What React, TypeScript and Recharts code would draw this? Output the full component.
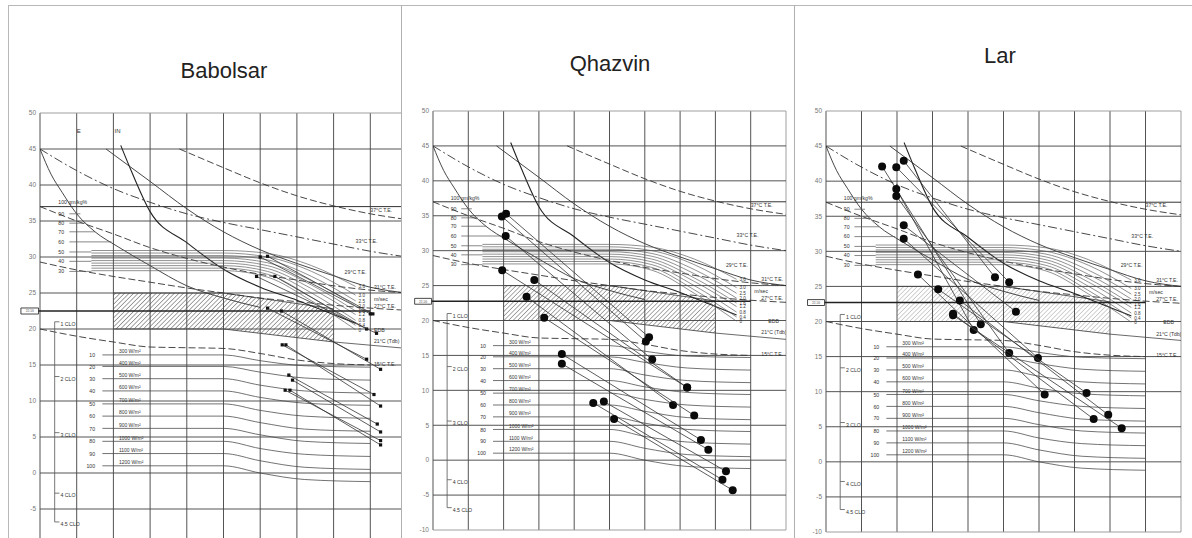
import React from 'react';
import { ComposedChart, XAxis, YAxis, Line, Area, Scatter, ReferenceLine, ReferenceArea } from 'recharts';

type Lbl = { x: number; y: number; t: string; s?: number; a?: 'start' | 'middle' | 'end' };

const FONT = '"Liberation Sans", Arial, sans-serif';

// axes
const RH_TICKS = [0, 10, 20, 30, 40, 50, 60, 70, 80, 90, 100];
const T_TICKS = [-10, -5, 0, 5, 10, 15, 20, 25, 30, 35, 40, 45, 50];
const TITLES = ['Babolsar', 'Qhazvin', 'Lar'];

// effective temperature (dashed) curves  [RH, T]
const TE_37 = [[38, 45], [50, 42.4], [60, 40.3], [70, 38.5], [80, 37.1], [90, 36], [100, 35.2]];
const TE_33 = [[0, 45], [10, 42], [20, 39.5], [30, 37.6], [40, 36], [50, 34.8], [60, 33.8], [70, 32.8], [80, 31.8], [90, 30.8], [100, 30]];
const TE_29 = [[0, 37], [10, 35], [20, 33.2], [30, 31.3], [40, 29.8], [50, 28.6], [60, 27.6], [70, 26.8], [80, 26], [90, 25.4], [100, 25]];
const TE_27 = [[0, 29.3], [10, 28.2], [20, 27.3], [30, 26.5], [40, 25.7], [50, 25], [60, 24.3], [70, 23.8], [80, 23.3], [90, 22.9], [100, 22.6]];
const TE_15 = [[0, 20], [10, 19], [20, 18.2], [30, 17.5], [40, 17.4], [50, 17.3], [60, 16.6], [70, 15.7], [80, 15.2], [90, 15]];

// solid curves
const CURVE_A = [[0, 45], [3, 41.5], [6, 39], [10, 36], [15, 33.5], [21, 31.5], [30, 28.8], [40, 26], [50, 24.3], [60, 23]];
const CURVE_B = [[18, 45], [30, 40.5], [40, 36.7], [50, 33.5], [60, 31], [70, 29.1], [80, 27.4], [90, 25.8], [100, 25]];
const CURVE_C = [[22, 45.5], [25, 41.8], [30, 36.3], [40, 32], [50, 28.3], [60, 25.8], [70, 24], [80, 22], [86, 20.8]];

// wind (fan) lines, x = 14, 50, 62, 74, 86
const FAN_X = [14, 50, 62, 74, 86];
const FAN_LINES = [
  [30.9, 30.9, 30.5, 28.8, 25.9],
  [30.55, 30.55, 30.0, 28.0, 24.7],
  [30.2, 30.2, 29.6, 27.3, 23.9],
  [29.85, 29.85, 29.2, 26.7, 23.2],
  [29.5, 29.5, 28.8, 26.1, 22.5],
  [29.15, 29.15, 28.4, 25.6, 22.0],
  [28.8, 28.8, 28.0, 25.0, 21.2],
  [28.45, 28.45, 27.6, 24.4, 20.5],
  [28.1, 28.1, 27.2, 23.9, 19.9],
];
const FAN_LABELS = ['3.6', '3.0', '2.5', '2.0', '1.6', '1.2', '0.8', '0.4', '0'];

// radiation lines, x = 17, 50, 60, 72, 90
const RAD_X = [17, 50, 60, 72, 90];
const RAD_LINES = [
  [16.4, 16.4, 15.6, 14.9, 14.7],
  [14.8, 14.8, 14.0, 13.2, 12.9],
  [13.1, 13.1, 12.2, 11.4, 11.1],
  [11.4, 11.4, 10.5, 9.7, 9.4],
  [9.6, 9.6, 8.7, 7.9, 7.6],
  [7.9, 7.9, 7.0, 6.1, 5.8],
  [6.2, 6.2, 5.3, 4.4, 4.1],
  [4.4, 4.4, 3.4, 2.6, 2.3],
  [2.7, 2.7, 1.7, 0.8, 0.5],
  [1.0, 1.0, 0.0, -0.9, -1.2],
];
const RAD_NUMS = ['10', '20', '30', '40', '50', '60', '70', '80', '90', '100'];
const RAD_WATTS = ['300 W/m²', '400 W/m²', '500 W/m²', '600 W/m²', '700 W/m²', '800 W/m²', '900 W/m²', '1000 W/m²', '1100 W/m²', '1200 W/m²'];

// humidity scale
const HUM_LINES = [[8, 11, 36.0], [8, 12.6, 34.7], [8, 15, 33.5], [8, 19.5, 32.1], [8, 14, 30.7], [8, 14, 29.4], [8, 14, 28.0]];
const HUM_LABELS: Lbl[] = [
  { x: 5, y: 37.3, t: '100 gm/kg%' }, { x: 5, y: 35.75, t: '90' }, { x: 5, y: 34.45, t: '80' }, { x: 5, y: 33.25, t: '70' },
  { x: 5, y: 31.85, t: '60' }, { x: 5, y: 30.45, t: '50' }, { x: 5, y: 29.15, t: '40' }, { x: 5, y: 27.75, t: '30' },
];

// comfort (hatched) zone  [RH, low, high]
const HATCH_ZONE = [[20, 20, 25], [50, 20, 25], [80, 18.2, 22.8]];

// clothing scale
const CLO_LEVELS = [21.0, 13.4, 5.6, -2.8, -6.8];
const CLO_LABELS: Lbl[] = [
  { x: 5.6, y: 20.4, t: '1 CLO' }, { x: 5.6, y: 12.8, t: '2 CLO' }, { x: 5.6, y: 5.0, t: '3 CLO' },
  { x: 5.6, y: -3.4, t: '4 CLO' }, { x: 5.6, y: -7.4, t: '4.5 CLO' },
];

const RIGHT_LABELS: Lbl[] = [
  { x: 90, y: 36.3, t: '37°C T.E.' }, { x: 86, y: 31.9, t: '33°C T.E.' }, { x: 83, y: 27.7, t: '29°C T.E.' },
  { x: 93, y: 25.6, t: '31°C T.E.' }, { x: 93, y: 22.9, t: '27°C T.E.' }, { x: 95, y: 19.6, t: 'EDB' },
  { x: 93, y: 18.0, t: '21°C (Tdb)' }, { x: 93, y: 14.9, t: '15°C T.E.' }, { x: 91, y: 23.9, t: 'm/sec' },
];

// monthly climate data: [RH at Tmax, Tmax] and [RH at Tmin, Tmin]
const BAB_HIGH = [[62, 30.1], [60, 30.0], [64, 27.3], [59, 27.3], [62, 22.9], [65.8, 22.5], [66, 17.8], [67, 17.8], [67.8, 13.6], [68.8, 12.9], [66.8, 11.5], [68.1, 11.5]];
const BAB_LOW = [[90.7, 22.1], [90, 22.1], [89, 20.0], [91.7, 19.4], [89, 15.8], [92.8, 14.4], [91, 10.9], [92.8, 9.3], [91.9, 6.8], [92.8, 5.7], [92.8, 4.5], [92.8, 3.9]];
const QAZ_HIGH = [[20.7, 35.3], [19.5, 34.9], [20.6, 32.1], [19.6, 27.2], [28.7, 25.8], [26.5, 23.4], [31.5, 20.4], [36.5, 15.2], [36.5, 13.8], [48.4, 8.4], [45.4, 8.2], [51.3, 5.9]];
const QAZ_LOW = [[61.2, 17.6], [60.3, 17.0], [62.1, 14.4], [72, 10.4], [72, 10.4], [68, 7.9], [74, 6.4], [75.9, 2.9], [78, 1.5], [83, -1.6], [82, -2.8], [84.9, -4.3]];
const LAR_HIGH = [[21.9, 42.9], [19.8, 42.0], [15.8, 42.1], [19.8, 38.9], [19.8, 37.9], [21.9, 33.7], [21.9, 31.8], [25.9, 26.7], [31.6, 24.6], [37.7, 23.0], [35.8, 21.1], [35.8, 20.9]];
const LAR_LOW = [[47.6, 26.3], [51.6, 25.6], [43.6, 19.6], [41.6, 18.8], [51.6, 15.5], [53.5, 21.4], [59.7, 14.8], [61.6, 9.6], [73.4, 9.8], [79.5, 6.7], [75.4, 6.1], [83.3, 4.8]];

const toPts = (a: number[][]) => a.map(([x, y]) => ({ x, y }));

const TextShape = (props: any) => {
  const { cx, cy, payload } = props;
  if (cx == null || cy == null || !payload) return null;
  return (
    <text x={cx} y={cy} fontSize={payload.s ?? 5.2} fill="#333" textAnchor={payload.a ?? 'start'} fontFamily={FONT}>
      {payload.t}
    </text>
  );
};

type Cfg = {
  id: string;
  left: number;
  width: number;
  height: number;
  clipW: number;
  mTop: number;
  mBottom: number;
  mRight: number;
  comfort: number;
  high: number[][];
  low: number[][];
  small: boolean;
  hatch: string;
  topLetters: boolean;
  maxLabelX: number;
  yTicks: number[];
};

function Panel({ c }: { c: Cfg }) {
  const els: React.ReactNode[] = [];
  const line = (key: string, data: number[][], stroke: string, w: number, dash?: string) => (
    <Line
      key={key}
      data={toPts(data)}
      dataKey="y"
      type="monotone"
      dot={false}
      activeDot={false}
      stroke={stroke}
      strokeWidth={w}
      strokeDasharray={dash}
      isAnimationActive={false}
      legendType="none"
    />
  );
  const seg = (key: string, x1: number, y1: number, x2: number, y2: number, stroke: string, w: number) => (
    <ReferenceLine key={key} segment={[{ x: x1, y: y1 }, { x: x2, y: y2 }]} stroke={stroke} strokeWidth={w} ifOverflow="visible" />
  );

  // hatched comfort zone
  els.push(
    <Area
      key="hatch"
      data={HATCH_ZONE.map(([x, lo, hi]) => ({ x, range: [lo, hi] }))}
      dataKey="range"
      type="linear"
      stroke="#333"
      strokeWidth={0.8}
      fill={`url(#${c.id}-hatch)`}
      fillOpacity={1}
      dot={false}
      activeDot={false}
      isAnimationActive={false}
      legendType="none"
    />
  );

  // grid
  RH_TICKS.forEach((v) =>
    els.push(<ReferenceLine key={'gx' + v} x={v} stroke={v === 100 ? '#9a9a9a' : '#4a4a4a'} strokeWidth={0.95} ifOverflow="visible" />)
  );
  T_TICKS.forEach((v) =>
    els.push(<ReferenceLine key={'gy' + v} y={v} stroke={v === 50 || v === -10 ? '#9a9a9a' : '#4a4a4a'} strokeWidth={0.95} ifOverflow="visible" />)
  );
  els.push(<ReferenceLine key="h37" y={37} stroke="#333" strokeWidth={1} ifOverflow="visible" />);

  // dashed effective-temperature curves
  els.push(line('te37', TE_37, '#333', 0.9, '7 3'));
  els.push(line('te33', TE_33, '#333', 0.9, '9 3 2 3'));
  els.push(line('te29', TE_29, '#333', 0.9, '7 3'));
  els.push(line('te27', TE_27, '#333', 0.9, '7 3'));
  els.push(line('te15', TE_15, '#333', 0.9, '7 3'));

  // solid curves
  els.push(line('ca', CURVE_A, '#333', 0.9));
  els.push(line('cb', CURVE_B, '#333', 0.9));
  els.push(line('cc', CURVE_C, '#222', 1.1));

  // humidity scale
  HUM_LINES.forEach(([x1, x2, y], i) => els.push(seg('hum' + i, x1, y, x2, y, '#555', 0.7)));

  // fan lines
  FAN_LINES.forEach((ys, i) =>
    els.push(line('fan' + i, FAN_X.map((x, j) => [x, ys[j]]), '#555', 0.65))
  );

  // radiation lines
  RAD_LINES.forEach((ys, i) =>
    els.push(line('rad' + i, RAD_X.map((x, j) => [x, ys[j]]), '#444', 0.75))
  );

  // hatch continuation line
  els.push(seg('tdb', 80, 18.2, 100, 17.3, '#444', 0.8));

  // clothing bracket
  els.push(seg('clo-v', 4, CLO_LEVELS[0], 4, CLO_LEVELS[CLO_LEVELS.length - 1], '#555', 0.8));
  CLO_LEVELS.forEach((y, i) => els.push(seg('clo' + i, 4, y, 5.3, y, '#555', 0.8)));

  // comfort line and its box label
  els.push(seg('comfort', 0, c.comfort, 90, c.comfort, '#222', 1.4));
  els.push(
    <ReferenceArea
      key="cbox"
      x1={-5.2}
      x2={-0.4}
      y1={c.comfort - 0.42}
      y2={c.comfort + 0.42}
      fill="#fff"
      fillOpacity={1}
      stroke="#333"
      strokeWidth={0.9}
      ifOverflow="visible"
      label={{ value: '22.50', fontSize: 3.6, fill: '#444', position: 'center' }}
    />
  );
  els.push(seg('comfort-l', -0.4, c.comfort, 0, c.comfort, '#222', 1.4));

  // text labels
  const labels: Lbl[] = [
    ...HUM_LABELS,
    ...CLO_LABELS,
    ...RIGHT_LABELS.map((l) => ({ ...l, x: Math.min(l.x, c.maxLabelX) })),
    ...FAN_LINES.map((ys, i) => ({ x: 86.8, y: ys[4] - 0.25, t: FAN_LABELS[i], s: 4.6 })),
    ...RAD_LINES.map((ys, i) => ({ x: 15, y: ys[0] - 0.3, t: RAD_NUMS[i], s: 5.2, a: 'end' as const })),
    ...RAD_LINES.map((ys, i) => ({ x: 21.5, y: ys[0] + 0.25, t: RAD_WATTS[i], s: 5 })),
  ];
  if (c.topLetters) {
    labels.push({ x: 10, y: 47.2, t: 'E', s: 6 }, { x: 20.3, y: 47.2, t: 'IN', s: 6 });
  }
  els.push(<Scatter key="labels" data={labels} shape={TextShape} isAnimationActive={false} legendType="none" />);

  // monthly lines with dots
  const dot = (p: any) =>
    c.small ? (
      <rect x={p.cx - 1.6} y={p.cy - 1.6} width={3.2} height={3.2} fill="#111" />
    ) : (
      <circle cx={p.cx} cy={p.cy} r={4} fill="#0a0a0a" />
    );
  c.high.forEach((h, i) => {
    const l = c.low[i];
    els.push(
      <Scatter
        key={'m' + i}
        data={[{ x: h[0], y: h[1] }, { x: l[0], y: l[1] }]}
        line={{ stroke: '#333', strokeWidth: 0.8 }}
        shape={dot}
        isAnimationActive={false}
        legendType="none"
      />
    );
  });

  return (
    <div style={{ position: 'absolute', left: c.left, top: 0, width: c.clipW, height: 538, overflow: 'hidden' }}>
      <ComposedChart width={c.width} height={c.height} margin={{ top: c.mTop, right: c.mRight, bottom: c.mBottom, left: 0 }}>
        <defs>
          <pattern id={`${c.id}-hatch`} width={3.2} height={3.2} patternUnits="userSpaceOnUse" patternTransform="rotate(45)">
            <line x1={0} y1={0} x2={0} y2={3.2} stroke={c.hatch} strokeWidth={0.9} />
          </pattern>
        </defs>
        <XAxis type="number" dataKey="x" domain={[0, 100]} ticks={RH_TICKS} hide allowDataOverflow />
        <YAxis
          type="number"
          dataKey="y"
          domain={[-10, 50]}
          ticks={c.yTicks}
          interval={0}
          width={30}
          axisLine={false}
          tickLine={false}
          tickSize={0}
          tickMargin={4}
          tick={{ fontSize: 6.5, fill: '#777', fontFamily: FONT }}
          allowDataOverflow
        />
        {els}
      </ComposedChart>
    </div>
  );
}

const PANELS: Cfg[] = [
  { id: 'p1', left: 10, width: 402, height: 550, clipW: 391, mTop: 113, mBottom: 5, mRight: 5, comfort: 22.5, high: BAB_HIGH, low: BAB_LOW, small: true, hatch: '#333', topLetters: true, maxLabelX: 91, yTicks: T_TICKS.filter((v) => v > -10) },
  { id: 'p2', left: 403, width: 388, height: 538, clipW: 391, mTop: 111, mBottom: 8, mRight: 5, comfort: 22.75, high: QAZ_HIGH, low: QAZ_LOW, small: false, hatch: '#444', topLetters: false, maxLabelX: 100, yTicks: T_TICKS },
  { id: 'p3', left: 796, width: 390, height: 538, clipW: 396, mTop: 111, mBottom: 6, mRight: 5, comfort: 22.7, high: LAR_HIGH, low: LAR_LOW, small: false, hatch: '#999', topLetters: false, maxLabelX: 100, yTicks: T_TICKS },
];

const TITLE_POS = [[224, 78], [610, 71], [1000, 63]];

export default function App() {
  return (
    <div style={{ position: 'absolute', left: 0, top: 0, width: 1192, height: 538, background: '#fff', overflow: 'hidden' }}>
      <svg width={1192} height={538} style={{ position: 'absolute', left: 0, top: 0 }}>
        <line x1={8} y1={5.5} x2={1192} y2={5.5} stroke="#b8b8b8" strokeWidth={1} />
        <line x1={8.5} y1={5} x2={8.5} y2={538} stroke="#b8b8b8" strokeWidth={1} />
        <line x1={401.5} y1={5} x2={401.5} y2={538} stroke="#b0b0b0" strokeWidth={1} />
        <line x1={794.5} y1={5} x2={794.5} y2={538} stroke="#b0b0b0" strokeWidth={1} />
        {TITLES.map((t, i) => (
          <text key={t} x={TITLE_POS[i][0]} y={TITLE_POS[i][1]} textAnchor="middle" fontSize={22} fontFamily={FONT} fill="#222">
            {t}
          </text>
        ))}
      </svg>
      {PANELS.map((p) => (
        <Panel key={p.id} c={p} />
      ))}
    </div>
  );
}
